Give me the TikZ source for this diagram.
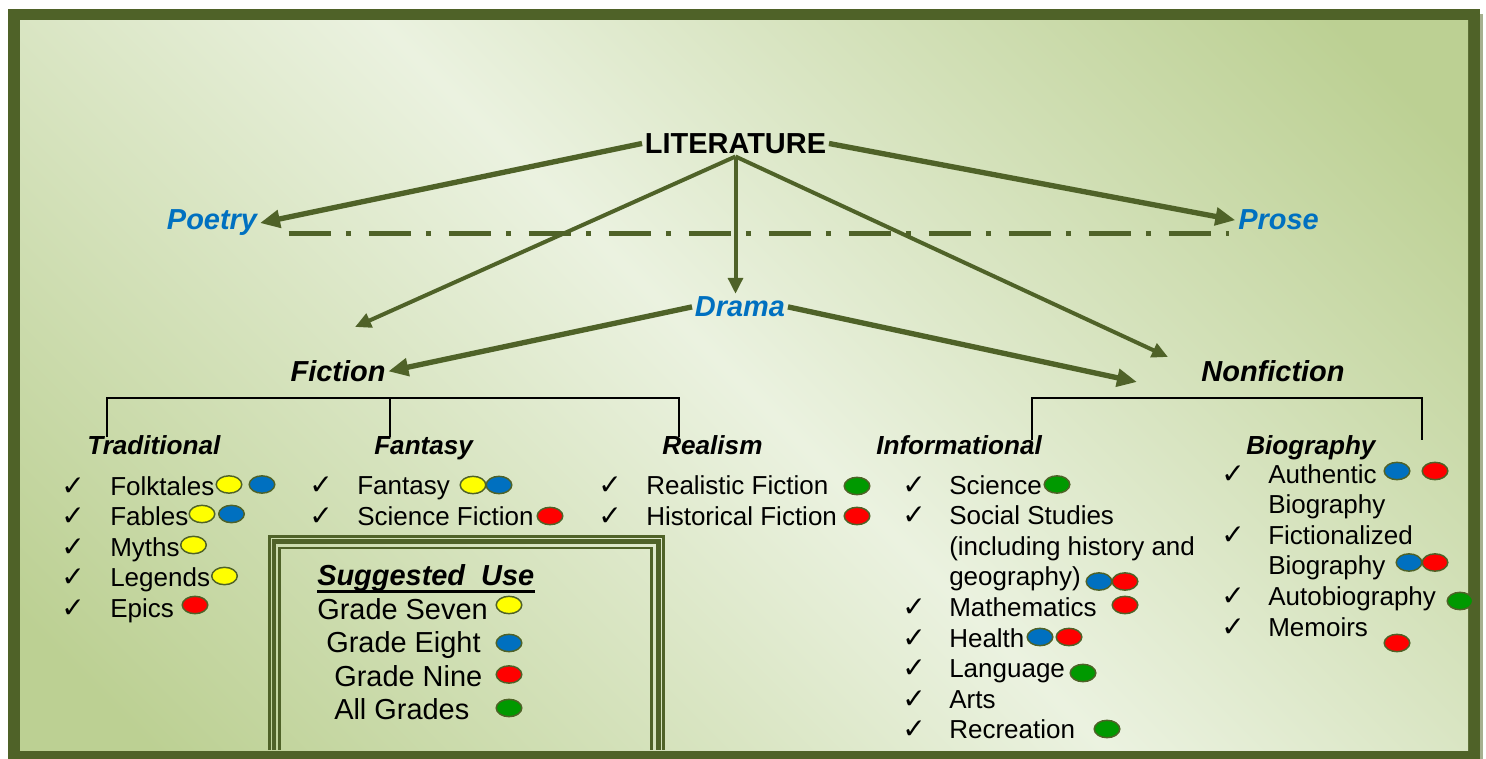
\documentclass[tikz,border=0pt]{standalone}
\usepackage{fontspec}
\setmainfont{Liberation Sans}
\newfontfamily\checkfont{DejaVu Sans}
\usetikzlibrary{arrows.meta,shapes.geometric}
\definecolor{olivedark}{HTML}{4F6228}
\definecolor{genreblue}{HTML}{0070C0}
\definecolor{bgdark}{HTML}{BCD093}
\definecolor{bglight}{HTML}{EBF2E0}
\definecolor{edgeshadow}{HTML}{A6B08F}
\definecolor{dyel}{HTML}{FFFF00}
\definecolor{dblu}{HTML}{0070C0}
\definecolor{dred}{HTML}{FF0000}
\definecolor{dgrn}{HTML}{009900}

\tikzset{
  item/.style={anchor=base west, inner sep=0pt, font=\fontsize{19.5}{23}\selectfont},
  tickmark/.style={anchor=base west, inner sep=0pt, font=\checkfont\fontsize{21}{24}\selectfont},
  heading/.style={anchor=base west, inner sep=0pt, font=\fontsize{19.6}{23}\selectfont\bfseries\itshape},
  genre/.style={anchor=base, inner sep=2pt, text=genreblue, font=\fontsize{21.7}{25}\selectfont\bfseries\itshape},
  branch/.style={genre, text=black},
  toplabel/.style={anchor=base, inner sep=2pt, font=\fontsize{21.7}{25}\selectfont\bfseries},
  link/.style={draw=olivedark, line width=4pt, -{Triangle[length=15pt,width=13pt]}},
  thinlink/.style={link, line width=3pt, -{Triangle[length=12pt,width=11pt]}},
  dot/.style={ellipse, draw=olivedark, line width=1.1pt, minimum width=19.2pt, minimum height=13pt, inner sep=0pt},
  bracket/.style={draw=black, line width=1.1pt},
  divider/.style={draw=olivedark, line width=3.5pt, dash pattern=on 32pt off 11pt on 4pt off 13pt},
  legtext/.style={anchor=base west, inner sep=0pt, font=\fontsize{21.7}{25}\selectfont},
}

\begin{document}
\begin{tikzpicture}[x=0.75pt, y=-0.75pt, >=Latex]
\useasboundingbox (0,0) rectangle (1486,759);
\fill[white] (0,0) rectangle (1486,759);

% frame and background
\fill[edgeshadow] (1480,14) rectangle (1483,759);
\fill[olivedark] (8,9) rectangle (1480,759);
\begin{scope}
  \clip (20,21) rectangle (1468,750);
  \shade[top color=bgdark, bottom color=bgdark, middle color=bglight, shading angle=135]
    (-160,-70) rectangle (1648,841);
\end{scope}

% legend box
\draw[olivedark, line width=2pt] (269.3,750) |- (663.6,536.2) -- (663.6,750);
\draw[olivedark, line width=3.4pt] (274,750) |- (658.5,541.7) -- (658.5,750);
\draw[olivedark, line width=1.9pt] (279.5,750) |- (651.5,548) -- (651.5,750);

% main labels
\node[toplabel] (lit) at (735.5,153.3) {LITERATURE};
\node[genre] (poetry) at (212,230) {Poetry};
\node[genre] (prose) at (1278.5,230) {Prose};
\node[genre] (drama) at (740,316.7) {Drama};
\node[branch] (fic) at (338,381.7) {Fiction};
\node[branch] (nonfic) at (1273,381.7) {Nonfiction};

\coordinate (fic-in) at (355,327);
\coordinate (non-in) at (1168,357);
\coordinate (non-side) at (1137,382);
\coordinate (div-a) at (288.5,233.3);
\coordinate (div-b) at (1229,233.3);

\draw[divider] (div-a) -- (div-b);

\draw[link] (lit.west) -- (poetry.east);
\draw[link] (lit.east) -- (prose.west);
\draw[thinlink] (lit.south) -- (fic-in);
\draw[thinlink] (lit.south) -- (lit.south |- drama.north);
\draw[thinlink] (lit.south) -- (non-in);
\draw[link] (drama.west) -- (fic.east);
\draw[link] (drama.east) -- (non-side);

% brackets
\draw[bracket] (107,437) |- (679,398) -- (679,437);
\draw[bracket] (390,398) -- (390,437);
\draw[bracket] (1032,440) |- (1422,398) -- (1422,440);

% sub headings
\node[heading] (trad) at (87,455) {Traditional};
\node[heading] (fant) at (374,455) {Fantasy};
\node[heading] (real) at (662,455) {Realism};
\node[heading] (info) at (876,455) {Informational};
\node[heading] (bio) at (1246,455) {Biography};

% lists
\foreach \t [count=\i] in {Folktales,Fables,Myths,Legends,Epics} {
  \node[tickmark] (trad-ck\i) at (61,464.5+30.5*\i) {✓};
  \node[item] (trad\i) at (110,464.5+30.5*\i) {\t};
}
\foreach \t [count=\i] in {Fantasy,Science Fiction} {
  \node[tickmark] (fant-ck\i) at (309,464+30.5*\i) {✓};
  \node[item] (fant\i) at (357,464+30.5*\i) {\t};
}
\foreach \t [count=\i] in {Realistic Fiction,Historical Fiction} {
  \node[tickmark] (real-ck\i) at (598,464+30.5*\i) {✓};
  \node[item] (real\i) at (646,464+30.5*\i) {\t};
}
\foreach \t/\k [count=\i] in {Science/1,Social Studies/1,{(including history and}/0,{geography)}/0,
    Mathematics/1,Health/1,Language/1,Arts/1,Recreation/1} {
  \ifnum\k=1 \node[tickmark] (info-ck\i) at (902,463.4+30.6*\i) {✓};\fi
  \node[item] (info\i) at (949,463.4+30.6*\i) {\t};
}
\foreach \t/\k [count=\i] in {Authentic/1,Biography/0,Fictionalized/1,Biography/0,Autobiography/1,Memoirs/1} {
  \ifnum\k=1 \node[tickmark] (bio-ck\i) at (1221,452.5+30.6*\i) {✓};\fi
  \node[item] (bio\i) at (1268,452.5+30.6*\i) {\t};
}

% legend
\node[legtext, font=\fontsize{21.7}{25}\selectfont\bfseries\itshape] (sug) at (317,585) {Suggested\ \ Use};
\draw[line width=2.4pt] ([yshift=-4.6pt]sug.base west) -- ([yshift=-4.6pt]sug.base east);
\node[legtext] (g7) at (317,619) {Grade Seven};
\node[legtext] (g8) at (326,652.3) {Grade Eight};
\node[legtext] (g9) at (334,686.7) {Grade Nine};
\node[legtext] (gall) at (334,719) {All Grades};

% grade dots
\foreach \x/\y/\c [count=\i] in {229/484.5/dyel,262/484.5/dblu,202/514/dyel,231.5/514/dblu,
    193.5/545/dyel,224.5/576/dyel,195/605/dred,
    473/485/dyel,499/485/dblu,550/516/dred,857/486/dgrn,857/516/dred,
    1057/484.5/dgrn,1099/581.5/dblu,1125/581.5/dred,1125/605/dred,1040/637/dblu,1069/637/dred,
    1083/673/dgrn,1107/729/dgrn,
    1397/471/dblu,1435/471/dred,1409/562.5/dblu,1435/562.5/dred,1460/601/dgrn,1397/643/dred,
    509/605/dyel,509/643/dblu,509/674.5/dred,509/708/dgrn}
  \node[dot, fill=\c] (dot\i) at (\x,\y) {};
\end{tikzpicture}
\end{document}
